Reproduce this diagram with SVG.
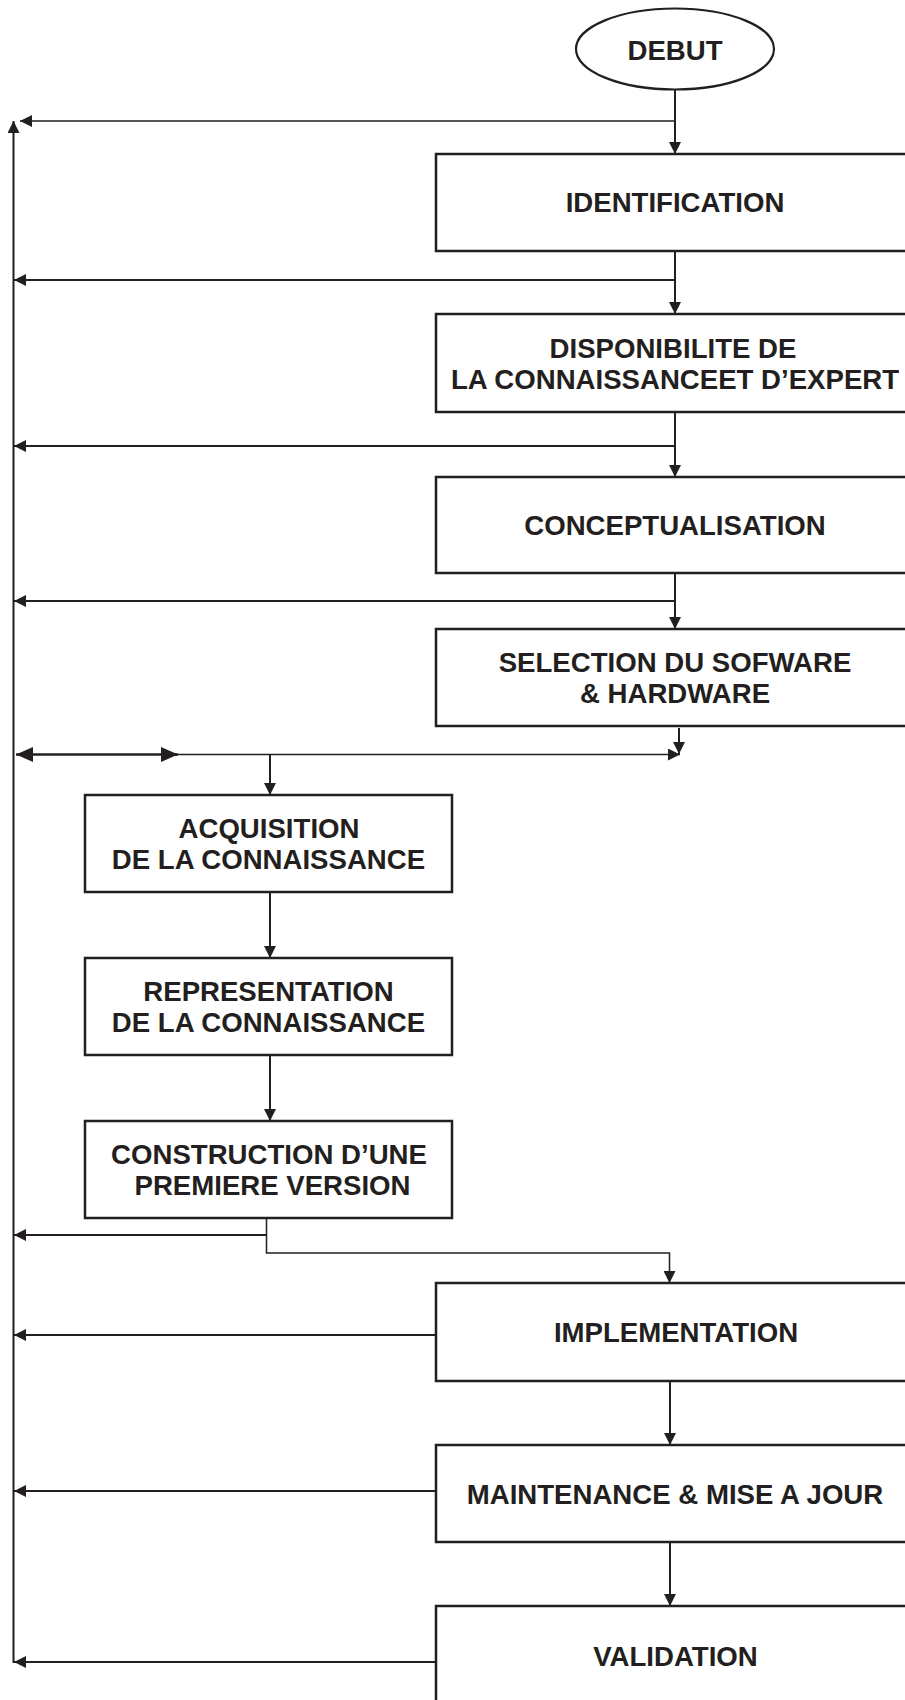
<svg xmlns="http://www.w3.org/2000/svg" width="905" height="1700" viewBox="0 0 905 1700">
  <style>
    .box { fill: #ffffff; stroke: #231f20; stroke-width: 2.5; }
    .lbl { font-family: "Liberation Sans", Arial, sans-serif; font-weight: bold; font-size: 27.6px; fill: #231f20; text-anchor: middle; }
    .ln { fill: none; stroke: #231f20; stroke-width: 2; }
    .thin { stroke-width: 1.5; }
    .arr { marker-end: url(#head); }
  </style>
  <defs>
    <marker id="head" viewBox="0 0 12 12" refX="12" refY="6" markerWidth="12" markerHeight="12" markerUnits="userSpaceOnUse" orient="auto">
      <path d="M0,0 L12,6 L0,12 z" fill="#231f20"/>
    </marker>
    <marker id="bighead" viewBox="0 0 17 15" refX="17" refY="7.5" markerWidth="17" markerHeight="15" markerUnits="userSpaceOnUse" orient="auto-start-reverse">
      <path d="M0,0 L17,7.5 L0,15 z" fill="#231f20"/>
    </marker>
  </defs>

  <!-- connectors -->
  <g id="connectors">
    <!-- feedback bus on the left -->
    <line class="ln arr" x1="13.5" y1="1663" x2="13.5" y2="121"/>
    <line class="ln thin arr" x1="675" y1="121" x2="20" y2="121"/>

    <!-- main chain -->
    <line class="ln arr" x1="675" y1="90" x2="675" y2="154"/>
    <line class="ln arr" x1="675" y1="252" x2="675" y2="314"/>
    <line class="ln arr" x1="675" y1="280" x2="14" y2="280"/>
    <line class="ln arr" x1="675" y1="413" x2="675" y2="477"/>
    <line class="ln arr" x1="675" y1="446" x2="14" y2="446"/>
    <line class="ln arr" x1="675" y1="574" x2="675" y2="629"/>
    <line class="ln arr" x1="675" y1="601" x2="14" y2="601"/>

    <!-- split below software selection -->
    <line class="ln arr" x1="679" y1="728" x2="679" y2="754"/>
    <line class="ln" style="stroke-width:2.5;marker-start:url(#bighead);marker-end:url(#bighead)" x1="16" y1="754.5" x2="178" y2="754.5"/>
    <line class="ln thin arr" x1="175" y1="754.5" x2="680" y2="754.5"/>
    <line class="ln arr" x1="270" y1="755" x2="270" y2="795"/>

    <!-- knowledge branch -->
    <line class="ln arr" x1="270" y1="893" x2="270" y2="958"/>
    <line class="ln arr" x1="270" y1="1056" x2="270" y2="1121"/>
    <polyline class="ln thin arr" points="266.5,1219 266.5,1253 669.5,1253 669.5,1283"/>
    <line class="ln arr" x1="266.5" y1="1235" x2="14" y2="1235"/>

    <!-- lower chain -->
    <line class="ln arr" x1="436" y1="1335" x2="14" y2="1335"/>
    <line class="ln arr" x1="670" y1="1382" x2="670" y2="1445"/>
    <line class="ln arr" x1="436" y1="1491" x2="14" y2="1491"/>
    <line class="ln arr" x1="670" y1="1543" x2="670" y2="1606"/>
    <line class="ln arr" x1="436" y1="1662" x2="14" y2="1662"/>
  </g>

  <!-- nodes -->
  <g id="debut">
    <ellipse cx="675" cy="49" rx="99" ry="40.5" fill="#ffffff" stroke="#231f20" stroke-width="2.2"/>
    <text class="lbl" x="675" y="59.5">DEBUT</text>
  </g>

  <g id="identification">
    <rect class="box" x="436" y="154" width="480" height="97"/>
    <text class="lbl" x="675" y="211.5">IDENTIFICATION</text>
  </g>

  <g id="disponibilite">
    <rect class="box" x="436" y="314" width="480" height="98"/>
    <text class="lbl" x="673" y="358">DISPONIBILITE DE</text>
    <text class="lbl" x="675" y="389">LA CONNAISSANCEET D’EXPERT</text>
  </g>

  <g id="conceptualisation">
    <rect class="box" x="436" y="477" width="480" height="96"/>
    <text class="lbl" x="675" y="535">CONCEPTUALISATION</text>
  </g>

  <g id="selection">
    <rect class="box" x="436" y="629" width="480" height="97"/>
    <text class="lbl" x="675" y="671.5">SELECTION DU SOFWARE</text>
    <text class="lbl" x="675" y="703">&amp; HARDWARE</text>
  </g>

  <g id="acquisition">
    <rect class="box" x="85" y="795" width="367" height="97"/>
    <text class="lbl" x="269" y="838">ACQUISITION</text>
    <text class="lbl" x="268.5" y="869">DE LA CONNAISSANCE</text>
  </g>

  <g id="representation">
    <rect class="box" x="85" y="958" width="367" height="97"/>
    <text class="lbl" x="268.5" y="1001">REPRESENTATION</text>
    <text class="lbl" x="268.5" y="1031.5">DE LA CONNAISSANCE</text>
  </g>

  <g id="construction">
    <rect class="box" x="85" y="1121" width="367" height="97"/>
    <text class="lbl" x="269" y="1164">CONSTRUCTION D’UNE</text>
    <text class="lbl" x="272.5" y="1195">PREMIERE VERSION</text>
  </g>

  <g id="implementation">
    <rect class="box" x="436" y="1283" width="480" height="98"/>
    <text class="lbl" x="676" y="1342">IMPLEMENTATION</text>
  </g>

  <g id="maintenance">
    <rect class="box" x="436" y="1445" width="480" height="97"/>
    <text class="lbl" x="675" y="1504">MAINTENANCE &amp; MISE A JOUR</text>
  </g>

  <g id="validation">
    <rect class="box" x="436" y="1606" width="480" height="110"/>
    <text class="lbl" x="675.5" y="1666">VALIDATION</text>
  </g>
</svg>
